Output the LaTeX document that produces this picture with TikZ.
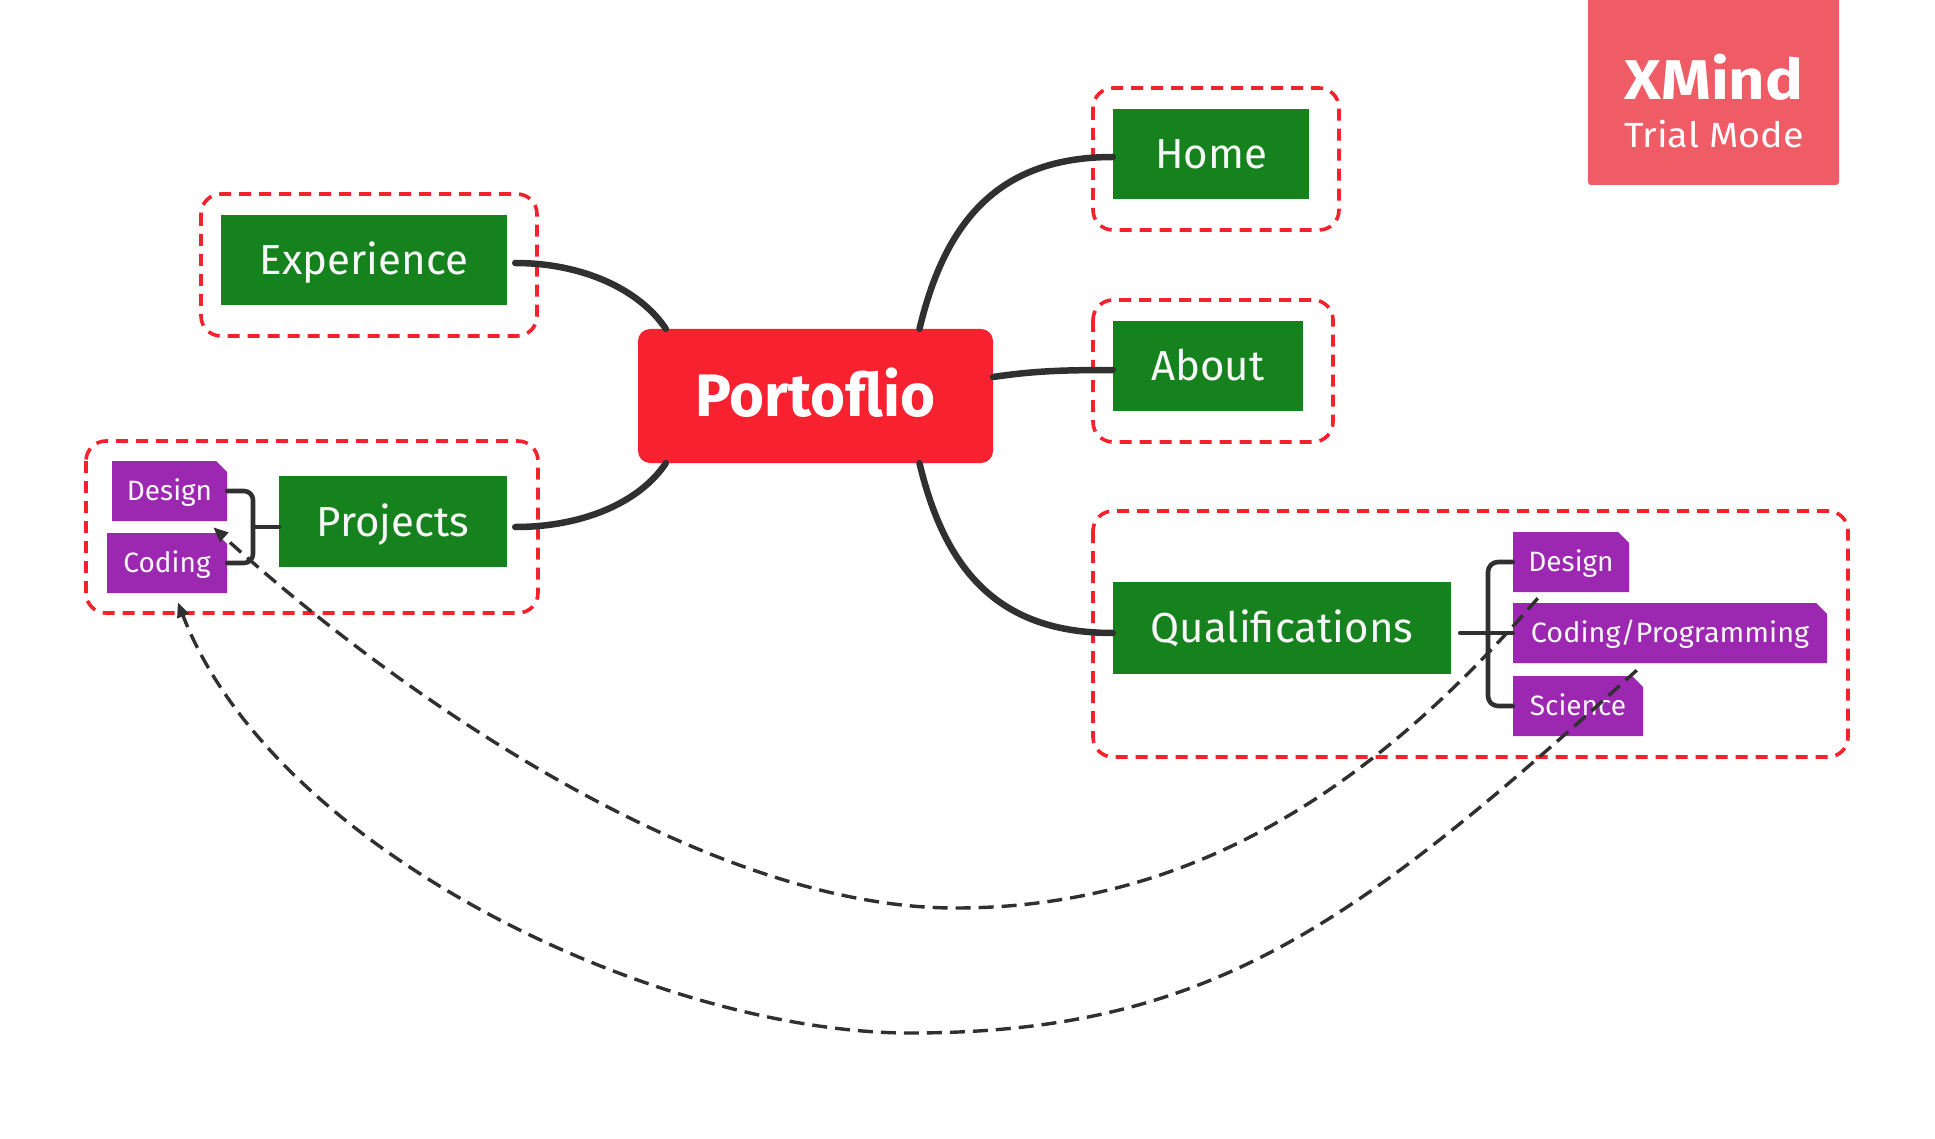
\documentclass[tikz,border=0pt]{standalone}
\usepackage{fontspec}
\setmainfont{Fira Sans}
\usetikzlibrary{arrows.meta,calc}
\definecolor{tgreen}{HTML}{16821E}
\definecolor{tpurple}{HTML}{9C27B0}
\definecolor{tred}{HTML}{F7212F}
\definecolor{bred}{HTML}{F5222E}
\definecolor{lnk}{HTML}{303030}
\definecolor{wmark}{HTML}{F05C66}
\definecolor{txt}{HTML}{F7F7F7}
\begin{document}
\begin{tikzpicture}[x=1pt,y=-1pt,
  topic/.style={fill=tgreen, text=txt, inner sep=0pt, text height=29pt, text depth=0pt,
    font=\fontsize{42}{48}\selectfont},
  central/.style={fill=tred, text=white, inner sep=0pt, rounded corners=12pt,
    text height=41pt, text depth=0pt, font=\bfseries\fontsize{60}{66}\selectfont},
  sub/.style={fill=white, text=txt, inner sep=0pt, text height=19.3pt, text depth=0pt,
    font=\fontsize{28}{32}\selectfont,
    path picture={\fill[tpurple] (path picture bounding box.south west)
      -- (path picture bounding box.north west)
      -- ([xshift=-11pt]path picture bounding box.north east)
      -- ([yshift=-11pt]path picture bounding box.north east)
      -- (path picture bounding box.south east) -- cycle;}},
  branch/.style={draw=lnk, line width=6.5pt, line cap=round},
  bracket/.style={draw=lnk, line width=4.6pt, line cap=round},
  bound/.style={draw=bred, line width=3.6pt, dash pattern=on 12pt off 8pt, rounded corners=20pt},
  rel/.style={draw=lnk, line width=3.4pt, dash pattern=on 15pt off 8pt,
    -{Triangle[length=15pt,width=12pt]}}
]
\useasboundingbox (0,0) rectangle (1935,1139);

% watermark
\fill[wmark, rounded corners=3pt] (1588,-10) rectangle (1839,185);
\node[text=white, inner sep=0pt, font=\bfseries\fontsize{56}{60}\selectfont] (wm1) at (1714,77) {\scalebox{1.13}[1]{XMind}};
\node[text=white, inner sep=0pt, font=\fontsize{35}{40}\selectfont] (wm2) at (1714,134) {\scalebox{1.08}[1]{Trial Mode}};

% boundaries
\draw[bound] (1093,88) rectangle (1339,230);
\draw[bound] (201,194) rectangle (537,336);
\draw[bound] (1093,300) rectangle (1333,442);
\draw[bound] (86,441) rectangle (538,613);
\draw[bound] (1093,511) rectangle (1848,757);

% topics
\node[central, minimum width=355pt, minimum height=134pt] (port) at (815.5,396) {Portoflio};
\node[topic, minimum width=196pt, minimum height=90pt] (home) at (1211,154) {Home};
\node[topic, minimum width=286pt, minimum height=90pt] (exp) at (364,260) {Experience};
\node[topic, minimum width=190pt, minimum height=90pt] (about) at (1208,366) {About};
\node[topic, minimum width=228pt, minimum height=91pt] (proj) at (393,521.5) {Projects};
\node[topic, minimum width=338pt, minimum height=92pt] (qual) at (1282,628) {Qualifications};

% subtopics
\node[sub, minimum width=115pt, minimum height=60pt] (dL) at (169.5,491) {Design};
\node[sub, minimum width=120pt, minimum height=60pt] (cL) at (167,563) {Coding};
\node[sub, minimum width=116pt, minimum height=60pt] (dR) at (1571,562) {Design};
\node[sub, minimum width=314pt, minimum height=60pt] (cp) at (1670,633) {\scalebox{1.03}[1]{Coding/Programming}};
\node[sub, minimum width=130pt, minimum height=60pt] (sci) at (1578,706) {Science};

% branches
\draw[branch] ($(port.north)+(104,0)$) .. controls +(26,-109) and +(-113,0) .. ($(home.west)+(0,3)$);
\draw[branch] ($(port.east)+(0,-19)$) .. controls +(40,-6) and +(-50,0) .. ($(about.west)+(0,4)$);
\draw[branch] ($(port.south)+(104,0)$) .. controls +(26,109) and +(-113,0) .. ($(qual.west)+(0,5)$);
\draw[branch] ($(port.north west)+(28,0)$) .. controls +(-26,-39) and +(68,0) .. ($(exp.east)+(8,3)$);
\draw[branch] ($(port.south west)+(28,0)$) .. controls +(-26,39) and +(68,0) .. ($(proj.east)+(8,5.5)$);

% brackets
\coordinate (pj) at (253,527);
\draw[bracket, rounded corners=9pt] (dL.east) -| (pj) |- (cL.east);
\draw[bracket] ($(proj.west)+(0,5.5)$) -- (pj);
\coordinate (qj) at (1488,633);
\draw[bracket, rounded corners=10pt] (dR.west) -| (qj) |- (sci.west);
\draw[bracket] ($(qual.east)+(9,5)$) -- (cp.west);

% relationships
\coordinate (m1) at (955,908);
\coordinate (m2) at (910,1033);
\draw[rel] ($(dR.south west)+(25,6)$) .. controls (1368,795) and (1185,908) .. (m1)
  .. controls (705,908) and (398,695) .. ($(dL.south east)+(-14,6)$);
\draw[rel] ($(cp.south west)+(124,7)$) .. controls (1355,925) and (1210,1033) .. (m2)
  .. controls (660,1033) and (275,853) .. ($(cL.south west)+(71,9)$);
\end{tikzpicture}
\end{document}
